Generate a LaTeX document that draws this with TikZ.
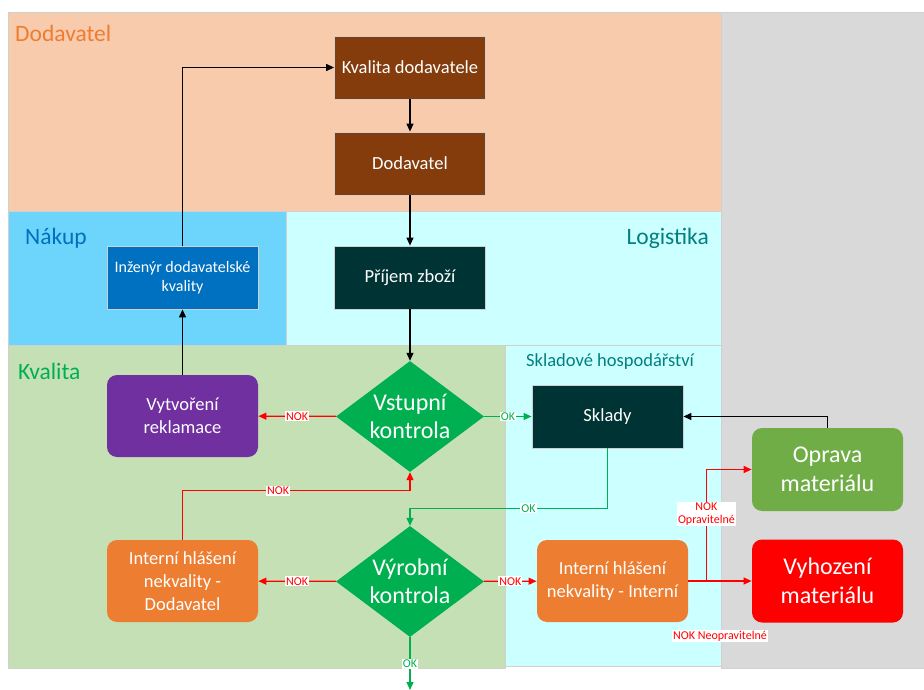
\documentclass[tikz,border=0pt]{standalone}
\usepackage{fontspec}
\setmainfont{Carlito}
\usetikzlibrary{shapes.geometric,arrows.meta}
\definecolor{cf8cbad}{RGB}{248,203,173}
\definecolor{cd9d9d9}{RGB}{217,217,217}
\definecolor{c6dd5fb}{RGB}{109,213,251}
\definecolor{cccffff}{RGB}{204,255,255}
\definecolor{cc5e0b4}{RGB}{197,224,180}
\definecolor{ced7d31}{RGB}{237,125,49}
\definecolor{c0070c0}{RGB}{0,112,192}
\definecolor{c008080}{RGB}{0,128,128}
\definecolor{c00b050}{RGB}{0,176,80}
\definecolor{c843c0c}{RGB}{132,60,12}
\definecolor{c003333}{RGB}{0,51,51}
\definecolor{c7030a0}{RGB}{112,48,160}
\definecolor{c70ad47}{RGB}{112,173,71}
\definecolor{cff0000}{RGB}{255,0,0}
\definecolor{cd0d0d0}{RGB}{208,208,208}

\tikzset{
  box/.style={rectangle, draw=cd0d0d0, line width=0.8pt, text=white, align=center,
    minimum width=151pt, minimum height=63pt, inner sep=2pt,
    font=\fontsize{18.5}{23}\selectfont},
  rbox/.style={box, draw=none, rounded corners=10pt, minimum height=82pt},
  bigbox/.style={rbox, minimum height=83pt, font=\fontsize{24}{29}\selectfont},
  check/.style={diamond, fill=c00b050, text=white, align=center, minimum width=148pt,
    minimum height=111pt, inner sep=-8pt, font=\fontsize{24}{28}\selectfont},
  lane/.style={draw=cd0d0d0, line width=0.8pt},
  lanetext/.style={inner sep=0pt, font=\fontsize{23.5}{28}\selectfont},
  flow/.style={line width=1.2pt, -{Triangle[length=8pt,width=7pt]}},
  lbl/.style={fill=white, inner sep=1pt, font=\fontsize{12}{13}\selectfont},
}

\begin{document}
\begin{tikzpicture}[y=1pt,x=1pt,yscale=-1]
  \useasboundingbox (0,0) rectangle (924,690);
  % lanes
  \filldraw[lane, fill=cf8cbad] (8,12) rectangle (721,211);
  \filldraw[lane, fill=cd9d9d9] (721,12) rectangle (924,668);
  \filldraw[lane, fill=c6dd5fb] (8,211) rectangle (286,345);
  \filldraw[lane, fill=cccffff] (286,211) rectangle (721,345);
  \filldraw[lane, fill=cc5e0b4] (8,345) rectangle (505,668);
  \filldraw[lane, fill=cccffff] (505,345) rectangle (721,666);
  \node[lanetext, anchor=west, text=ced7d31] (laneDodavatel) at (15,33) {Dodavatel};
  \node[lanetext, anchor=west, text=c0070c0] (laneNakup) at (25,238) {Nákup};
  \node[lanetext, anchor=east, text=c008080] (laneLogistika) at (709,238) {Logistika};
  \node[lanetext, anchor=west, text=c00b050] (laneKvalita) at (18,371) {Kvalita};
  \node[lanetext, anchor=west, text=c008080, font=\fontsize{18.5}{22}\selectfont]
    (laneSklad) at (526,362) {Skladové hospodářství};

  % boxes
  \node[box, fill=c843c0c] (kvalitaDod) at (410,67.5) {Kvalita dodavatele};
  \node[box, fill=c843c0c] (dodavatel) at (410,163.5) {Dodavatel};
  \node[box, fill=c003333] (prijem) at (410,277.5) {Příjem zboží};
  \node[box, fill=c0070c0, font=\fontsize{16}{19}\selectfont] (inzenyr) at (182.5,277.5)
    {Inženýr dodavatelské\\kvality};
  \node[rbox, fill=c7030a0] (reklamace) at (182.5,416) {Vytvoření\\reklamace};
  \node[check] (vstupni) at (410,416.5) {Vstupní\\kontrola};
  \node[box, fill=c003333] (sklady) at (607.5,416.5) {Sklady};
  \node[bigbox, fill=c70ad47] (oprava) at (827.5,469.5) {Oprava\\materiálu};
  \node[check] (vyrobni) at (410,581.5) {Výrobní\\kontrola};
  \node[rbox, fill=ced7d31] (intDod) at (182.5,581) {Interní hlášení\\nekvality -\\Dodavatel};
  \node[rbox, fill=ced7d31] (intInt) at (612.5,581) {Interní hlášení\\nekvality - Interní};
  \node[bigbox, fill=cff0000] (vyhozeni) at (827.5,581) {Vyhození\\materiálu};
  \coordinate (split) at ([xshift=18pt]intInt.east);
  \coordinate (ven) at (410,690);

  % connectors
  \draw[flow] (inzenyr.north) |- (kvalitaDod.west);
  \draw[flow] (kvalitaDod) -- (dodavatel);
  \draw[flow] (dodavatel) -- (prijem);
  \draw[flow] (prijem) -- (vstupni);
  \draw[flow] (reklamace) -- (inzenyr);
  \draw[flow] (oprava.north) |- (sklady.east);
  \draw[flow, cff0000] (vstupni) -- (reklamace) node[lbl, midway] {NOK};
  \draw[flow, c00b050] (vstupni) -- (sklady) node[lbl, midway] {OK};
  \draw[flow, c00b050] (sklady.south) -- ++(0,60) -| (vyrobni.north)
    node[lbl, pos=0.2] {OK};
  \draw[flow, cff0000] (intDod.north) -- ++(0,-49) -| (vstupni.south)
    node[lbl, pos=0.21] {NOK};
  \draw[flow, cff0000] (vyrobni) -- (intDod) node[lbl, midway] {NOK};
  \draw[flow, cff0000] (vyrobni) -- (intInt) node[lbl, midway] {NOK};
  \draw[flow, c00b050] (vyrobni) -- (ven) node[lbl, midway] {OK};
  \draw[flow, cff0000] (intInt) -- (vyhozeni)
    node[lbl, text=cff0000, midway, yshift=-55pt] {NOK Neopravitelné};
  \draw[flow, cff0000] (split) |- (oprava.west)
    node[lbl, pos=0.3, align=center] {NOK\\Opravitelné};
\end{tikzpicture}
\end{document}
